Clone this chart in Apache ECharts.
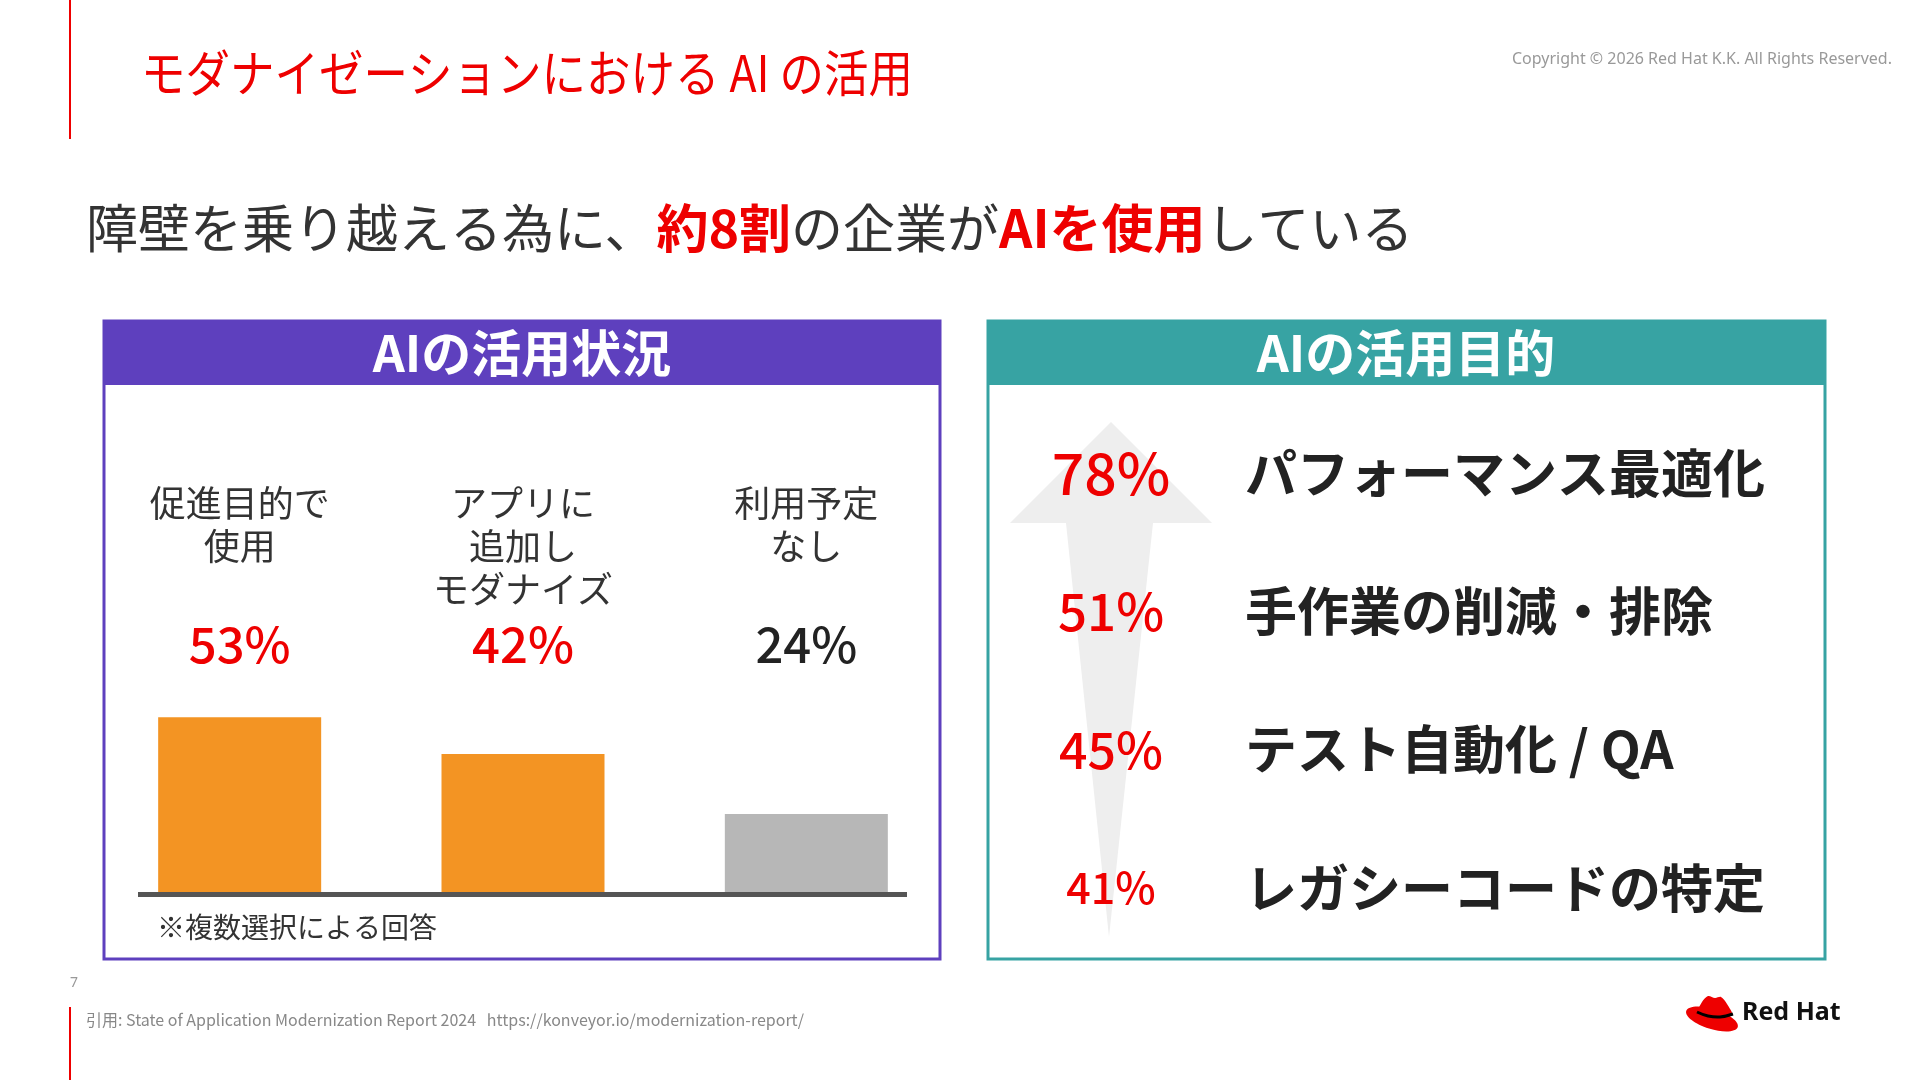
<!DOCTYPE html>
<html>
<head>
<meta charset="utf-8">
<script src="https://cdn.jsdelivr.net/npm/echarts@6/dist/echarts.min.js"></script>
<style>
  html, body { margin: 0; padding: 0; background: #fff; }
  #chart { width: 1920px; height: 1080px; }
</style>
</head>
<body>
<div id="chart"></div>
<script>
// AIの活用状況
var usageCategories = ['促進目的で\n使用', 'アプリに\n追加し\nモダナイズ', '利用予定\nなし'];
var usageValues = [53, 42, 24];
// AIの活用目的
var purposeNames = ['パフォーマンス最適化', '手作業の削減・排除', 'テスト自動化 / QA', 'レガシーコードの特定'];
var purposeValues = [78, 51, 45, 41];

var FONT = '"Noto Sans CJK JP", "Noto Sans", sans-serif';
var RED = '#EE0000';
var PURPLE = '#5E40BE';
var TEAL = '#37A3A3';

var myChart = echarts.init(document.getElementById('chart'));

// 行数を揃えてパーセントの位置を合わせる
function usageLabel(val, idx) {
    var lines = val.split('\n');
    while (lines.length < 3) { lines.push(' '); }
    var s = lines.map(function (l) { return '{c|' + l + '}'; }).join('\n');
    // 利用予定なし は黒
    var pStyle = idx === usageValues.length - 1 ? 'q' : 'p';
    return s + '\n{' + pStyle + '|' + usageValues[idx] + '%}';
}

var pctStyles = ['a', 'b', 'c', 'd'];

var option = {
    backgroundColor: '#fff',
    animation: false,
    textStyle: { fontFamily: FONT },
    grid: [
        { left: 98, width: 850, top: 689, height: 205 },
        { left: 1245, right: 95, top: 404, height: 553 }
    ],
    xAxis: [
        {
            type: 'category', gridIndex: 0, position: 'top',
            data: usageCategories,
            axisLine: { show: false }, axisTick: { show: false },
            axisLabel: {
                interval: 0, margin: 11,
                formatter: usageLabel,
                rich: {
                    c: { fontSize: 36, lineHeight: 43, color: '#333', fontFamily: FONT },
                    p: { fontSize: 49, lineHeight: 67, color: RED, fontFamily: FONT, fontWeight: 500 },
                    q: { fontSize: 49, lineHeight: 67, color: '#222', fontFamily: FONT, fontWeight: 500 }
                }
            }
        },
        { type: 'value', gridIndex: 1, min: 0, max: 1, show: false }
    ],
    yAxis: [
        { type: 'value', gridIndex: 0, min: 0, max: 61.5, show: false },
        {
            type: 'category', gridIndex: 1, inverse: true,
            data: purposeNames,
            axisLine: { show: false }, axisTick: { show: false },
            axisLabel: {
                inside: true, margin: 0,
                fontSize: 52, fontWeight: 'bold', color: '#222', fontFamily: FONT
            }
        }
    ],
    series: [
        {
            type: 'bar', xAxisIndex: 0, yAxisIndex: 0,
            data: usageValues,
            barWidth: 163,
            itemStyle: {
                color: function (p) { return p.dataIndex < 2 ? '#F39423' : '#B7B7B7'; }
            },
            z: 5
        },
        {
            type: 'scatter', xAxisIndex: 1, yAxisIndex: 1,
            data: purposeValues.map(function (v, i) { return [0, purposeNames[i], v]; }),
            symbolSize: 2,
            itemStyle: { color: 'rgba(0,0,0,0)', opacity: 1 },
            label: {
                show: true, position: 'inside', offset: [-134, 0],
                align: 'center', verticalAlign: 'middle',
                formatter: function (p) { return '{' + pctStyles[p.dataIndex] + '|' + p.value[2] + '%}'; },
                rich: {
                    a: { fontSize: 57, color: RED, fontFamily: FONT, fontWeight: 500 },
                    b: { fontSize: 51, color: RED, fontFamily: FONT, fontWeight: 500 },
                    c: { fontSize: 50, color: RED, fontFamily: FONT, fontWeight: 500 },
                    d: { fontSize: 43, color: RED, fontFamily: FONT, fontWeight: 500 }
                }
            },
            z: 10
        }
    ],
    graphic: [
        // 左の赤線
        { type: 'rect', shape: { x: 69, y: 0, width: 2, height: 139 }, style: { fill: RED } },
        { type: 'rect', shape: { x: 69, y: 1007, width: 2, height: 73 }, style: { fill: RED } },
        // タイトル
        {
            type: 'text', x: 141, y: 73, scaleX: 0.89,
            style: { text: 'モダナイゼーションにおける AI の活用', fill: RED, font: '50px ' + FONT, textVerticalAlign: 'middle' }
        },
        {
            type: 'text', x: 1892, y: 59,
            style: { text: 'Copyright © 2026 Red Hat K.K. All Rights Reserved.', fill: '#999', font: '16px "Noto Sans", sans-serif', textAlign: 'right', textVerticalAlign: 'middle' }
        },
        {
            type: 'text', x: 86, y: 228,
            style: {
                text: '{n|障壁を乗り越える為に、}{r|約8割}{n|の企業が}{r|AIを使用}{n|している}',
                textVerticalAlign: 'middle',
                rich: {
                    n: { fontSize: 52, fill: '#333', fontFamily: FONT, fontWeight: 400 },
                    r: { fontSize: 52, fill: RED, fontFamily: FONT, fontWeight: 'bold' }
                }
            }
        },
        // パネル
        { type: 'rect', z: -1, shape: { x: 104, y: 321, width: 836, height: 638 }, style: { fill: '#fff', stroke: PURPLE, lineWidth: 3 } },
        { type: 'rect', z: -1, shape: { x: 104, y: 321, width: 836, height: 64 }, style: { fill: PURPLE } },
        {
            type: 'text', x: 522, y: 353,
            style: { text: 'AIの活用状況', fill: '#fff', font: 'bold 50px ' + FONT, textAlign: 'center', textVerticalAlign: 'middle' }
        },
        { type: 'rect', z: -1, shape: { x: 988, y: 321, width: 837, height: 638 }, style: { fill: '#fff', stroke: TEAL, lineWidth: 3 } },
        { type: 'rect', z: -1, shape: { x: 988, y: 321, width: 837, height: 64 }, style: { fill: TEAL } },
        {
            type: 'text', x: 1406, y: 353,
            style: { text: 'AIの活用目的', fill: '#fff', font: 'bold 50px ' + FONT, textAlign: 'center', textVerticalAlign: 'middle' }
        },
        // 棒グラフの基線
        { type: 'rect', z: 10, shape: { x: 138, y: 892, width: 769, height: 5 }, style: { fill: '#555' } },
        {
            type: 'text', x: 157, y: 927,
            style: { text: '※複数選択による回答', fill: '#333', font: '28px ' + FONT, textVerticalAlign: 'middle' }
        },
        // 上向き矢印
        {
            type: 'polygon', z: 0,
            shape: { points: [[1111, 422], [1212, 523], [1153, 523], [1109, 937], [1066, 523], [1010, 523]] },
            style: { fill: '#EEEEEE' }
        },
        // フッター
        { type: 'text', x: 70, y: 983, style: { text: '7', fill: '#999', font: '14px "Noto Sans", sans-serif', textVerticalAlign: 'middle' } },
        {
            type: 'text', x: 86, y: 1020,
            style: { text: '引用: State of Application Modernization Report 2024   https://konveyor.io/modernization-report/', fill: '#888', font: '16px ' + FONT, textVerticalAlign: 'middle' }
        },
        // Red Hat ロゴ
        {
            type: 'group', x: 1686, y: 994,
            children: [
                { type: 'ellipse', rotation: -0.3, x: 26, y: 25, shape: { cx: 0, cy: 0, rx: 27, ry: 10 }, style: { fill: RED } },
                {
                    type: 'polygon',
                    shape: { points: [[12, 19], [16, 8], [22, 2], [29, 4], [35, 3], [41, 10], [46, 21], [30, 23]], smooth: 0.3 },
                    style: { fill: RED }
                },
                {
                    type: 'polyline',
                    shape: { points: [[11, 18], [22, 22], [34, 23], [47, 20]], smooth: 0.4 },
                    style: { stroke: '#000', lineWidth: 3, fill: null }
                }
            ]
        },
        {
            type: 'text', x: 1742, y: 1013,
            style: { text: 'Red Hat', fill: '#111', font: 'bold 25px "Noto Sans", sans-serif', textVerticalAlign: 'middle' }
        }
    ]
};

myChart.setOption(option);
</script>
</body>
</html>
